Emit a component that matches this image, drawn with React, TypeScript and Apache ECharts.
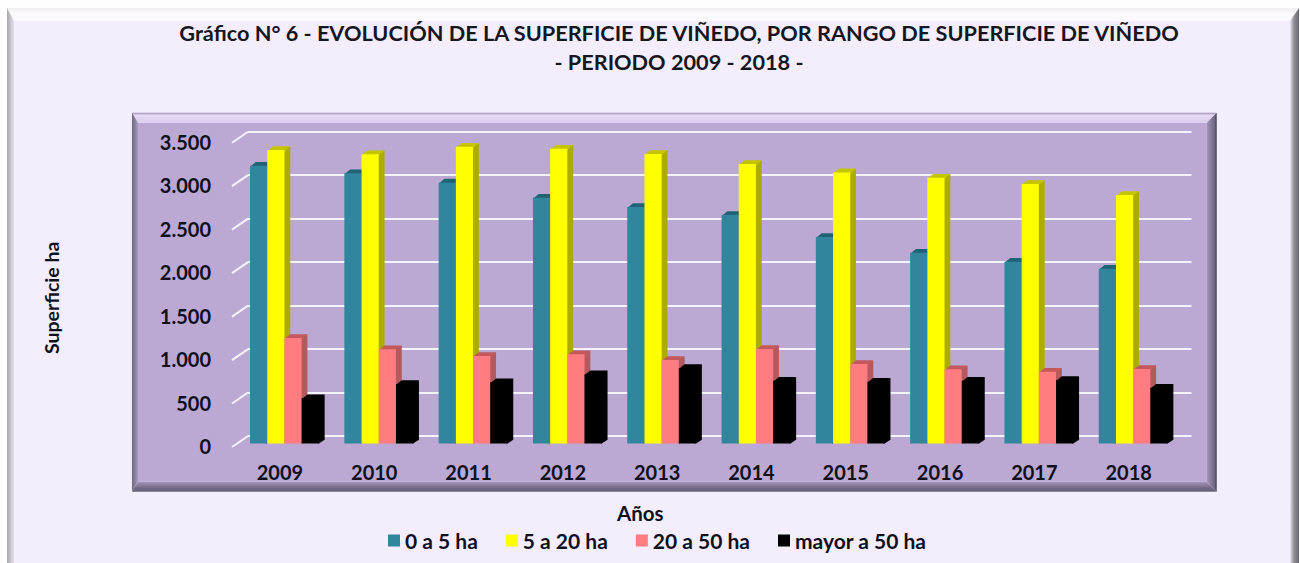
import React, { useEffect, useRef } from "react";
import * as echarts from "echarts";

const years = ["2009", "2010", "2011", "2012", "2013", "2014", "2015", "2016", "2017", "2018"];
const ticks = [0, 500, 1000, 1500, 2000, 2500, 3000, 3500];
const v0a5 = [3195, 3107, 3000, 2827, 2720, 2628, 2375, 2194, 2091, 2010];
const v5a20 = [3375, 3326, 3413, 3390, 3329, 3214, 3118, 3057, 2984, 2858];
const v20a50 = [1213, 1083, 1006, 1026, 960, 1087, 914, 853, 826, 857];
const vMayor50 = [520, 684, 704, 796, 868, 722, 711, 722, 730, 642];

const seriesNames = ["0 a 5 ha", "5 a 20 ha", "20 a 50 ha", "mayor a 50 ha"];
const seriesValues = [v0a5, v5a20, v20a50, vMayor50];
const frontColors = ["#31859c", "#ffff00", "#ff7c80", "#000000"];
const sideColors = ["#21697b", "#acac00", "#b25a5d", "#000000"];
const topColors = ["#1f6475", "#c4c400", "#c4595c", "#000000"];

const TITLE = "Gráfico N° 6 - EVOLUCIÓN DE LA SUPERFICIE DE VIÑEDO, POR RANGO DE SUPERFICIE DE VIÑEDO\n- PERIODO 2009 - 2018 -";
const FONT = "Lato";
const INK = "#10101c";
const BAR_W = 17.2;
const DX = 5.8;
const DY = 3.8;

const lin = (x0: number, y0: number, x1: number, y1: number, stops: [number, string][]) =>
  new echarts.graphic.LinearGradient(x0, y0, x1, y1, stops.map(([offset, color]) => ({ offset, color })));

function frame(l: number, t: number, r: number, b: number, bw: { l: number; t: number; r: number; b: number }, fill: string, s: any) {
  const il = l + bw.l, it = t + bw.t, ir = r - bw.r, ib = b - bw.b;
  const poly = (points: number[][], f: any) => ({ type: "polygon", z: -10, silent: true, shape: { points }, style: { fill: f } });
  return [
    { type: "rect", z: -10, silent: true, shape: { x: il, y: it, width: ir - il, height: ib - it }, style: { fill } },
    poly([[l, t], [r, t], [ir, it], [il, it]], s.top),
    poly([[l, t], [il, it], [il, ib], [l, b]], s.left),
    poly([[r, t], [r, b], [ir, ib], [ir, it]], s.right),
    poly([[l, b], [il, ib], [ir, ib], [r, b]], s.bottom),
  ];
}

export default function App() {
  const ref = useRef<HTMLDivElement>(null);
  useEffect(() => {
    const chart = echarts.init(ref.current!, undefined, { renderer: "svg" });
    const extrude = seriesValues.map((vals, i) => ({
      type: "custom",
      xAxisIndex: 0,
      yAxisIndex: 0,
      z: 3 + 2 * i,
      silent: true,
      encode: { x: 0, y: 1 },
      data: vals.map((v, c) => [c, v]),
      renderItem: (_: any, api: any) => {
        const [cx, yTop] = api.coord([api.value(0), api.value(1)]);
        const [, yBase] = api.coord([api.value(0), 0]);
        const x = cx - 2 * BAR_W + i * BAR_W;
        const xr = x + BAR_W;
        return {
          type: "group",
          children: [
            { type: "polygon", shape: { points: [[xr - 1, yTop], [xr + DX, yTop - DY], [xr + DX, yBase - DY], [xr, yBase], [xr - 1, yBase]] }, style: { fill: sideColors[i] } },
            { type: "polygon", shape: { points: [[x, yTop + 1], [x + DX, yTop - DY], [xr + DX, yTop - DY], [xr, yTop + 1]] }, style: { fill: topColors[i] } },
          ],
        };
      },
    }));
    const bars = seriesValues.map((vals, i) => ({
      type: "bar",
      name: seriesNames[i],
      xAxisIndex: 0,
      yAxisIndex: 0,
      barWidth: BAR_W,
      barGap: 0,
      z: 4 + 2 * i,
      silent: true,
      itemStyle: { color: frontColors[i] },
      data: vals,
    }));
    const tickMarks = {
      type: "custom",
      xAxisIndex: 1,
      yAxisIndex: 1,
      z: 1,
      silent: true,
      encode: { x: 0, y: 1 },
      data: ticks.map((t) => [0, t]),
      renderItem: (_: any, api: any) => {
        const [x, y] = api.coord([0, api.value(1)]);
        return {
          type: "line",
          shape: { x1: x - 16, y1: y + 11, x2: x, y2: y },
          style: { stroke: "#f6f2fb", lineWidth: 2 },
        };
      },
    };
    chart.setOption({
      animation: false,
      backgroundColor: "#fefefe",
      textStyle: { fontFamily: FONT },
      title: {
        text: TITLE,
        left: 674,
        top: 13,
        textAlign: "center",
        textStyle: { fontFamily: FONT, fontWeight: "bold", fontSize: 21.7, lineHeight: 29, color: "#16161f" },
      },
      legend: {
        data: seriesNames,
        left: 383,
        top: 525,
        itemWidth: 12,
        itemHeight: 12,
        itemGap: 28,
        icon: "rect",
        textStyle: { fontFamily: FONT, fontWeight: "bold", fontSize: 21, color: INK },
      },
      grid: [
        { left: 237.3, width: 943, top: 139.2, height: 304.3 },
        { left: 248, width: 943.5, top: 131.7, height: 304.3 },
      ],
      xAxis: [
        {
          type: "category",
          gridIndex: 0,
          data: years,
          axisLine: { show: false },
          axisTick: { show: false },
          axisLabel: { fontFamily: FONT, fontWeight: "bold", fontSize: 20, color: INK, margin: 18, padding: [0, 9, 0, 0] },
          name: "Años",
          nameLocation: "middle",
          nameGap: 59,
          nameTextStyle: { fontFamily: FONT, fontWeight: "bold", fontSize: 20.5, color: INK, padding: [0, 137, 0, 0] },
        },
        { type: "value", gridIndex: 1, min: 0, max: 1, show: false },
      ],
      yAxis: [
        {
          type: "value",
          gridIndex: 0,
          min: 0,
          max: 3500,
          interval: 500,
          splitLine: { show: false },
          axisLine: { show: false },
          axisTick: { show: false },
          axisLabel: { show: false },
          name: "Superficie ha",
          nameLocation: "middle",
          nameGap: 176,
          nameRotate: 90,
          nameTextStyle: { fontFamily: FONT, fontWeight: "bold", fontSize: 19.5, color: INK, padding: [14, 13, 0, 0] },
        },
        {
          type: "value",
          gridIndex: 1,
          min: 0,
          max: 3500,
          interval: 500,
          axisLine: { show: false },
          axisTick: { show: false },
          axisLabel: {
            fontFamily: FONT,
            fontWeight: "bold",
            fontSize: 20,
            lineHeight: 20,
            color: INK,
            margin: 37,
            verticalAlign: "top",
            formatter: (v: number) => String(v).replace(/\B(?=(\d{3})+$)/g, "."),
          },
          splitLine: { show: true, lineStyle: { color: "#f6f2fb", width: 2 } },
        },
      ],
      graphic: [
        ...frame(7, 8, 1299, 563, { l: 7, t: 13, r: 9, b: 0 }, "#f3edfc", {
          top: lin(0, 0, 0, 1, [[0, "#f0eef2"], [0.4, "#fbf9fe"], [1, "#fcfaff"]]),
          left: lin(0, 0, 1, 0, [[0, "#a9a6ae"], [1, "#e6e0ee"]]),
          right: lin(0, 0, 1, 0, [[0, "#e8e3ee"], [0.45, "#8f8c96"], [1, "#6c6a72"]]),
          bottom: "#f3edfc",
        }),
        ...frame(132, 112.7, 1216.7, 491.7, { l: 6, t: 10, r: 10, b: 10 }, "#bba9d3", {
          top: lin(0, 0, 0, 1, [[0, "#9a8bb2"], [0.25, "#e6d9f6"], [1, "#dccdef"]]),
          left: lin(0, 0, 1, 0, [[0, "#6f6880"], [1, "#a99abf"]]),
          right: lin(0, 0, 1, 0, [[0, "#a595bb"], [0.8, "#6e6580"], [1, "#3c3848"]]),
          bottom: lin(0, 0, 0, 1, [[0, "#a596bc"], [0.7, "#6e6580"], [1, "#6a6276"]]),
        }),
      ],
      series: [tickMarks, ...extrude, ...bars],
    });
    return () => chart.dispose();
  }, []);
  return <div ref={ref} style={{ position: "fixed", left: 0, top: 0, width: 1300, height: 563 }} />;
}
